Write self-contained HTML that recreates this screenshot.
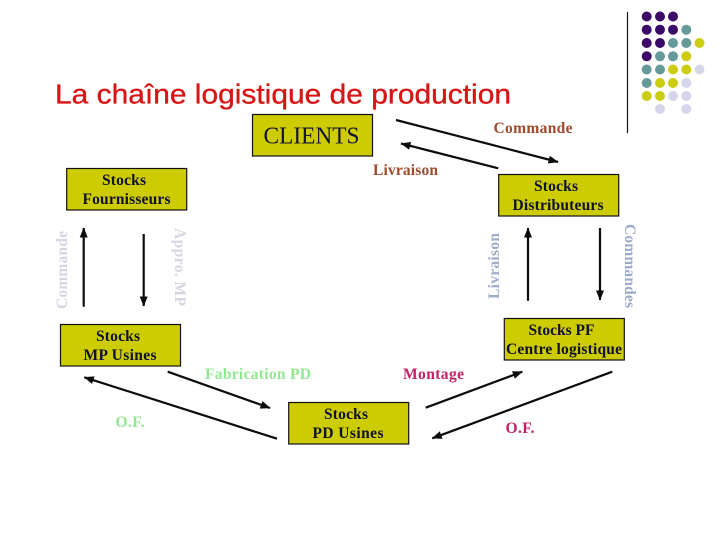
<!DOCTYPE html>
<html lang="fr">
<head>
<meta charset="utf-8">
<title>La chaîne logistique de production</title>
<style>
html,body{margin:0;padding:0;background:#fff;width:720px;height:540px;overflow:hidden}
svg{display:block}
.b{font-family:"Liberation Serif",serif;font-weight:bold;font-size:15.5px;text-anchor:middle;fill:#101030}
.l{font-family:"Liberation Serif",serif;font-weight:bold;font-size:15.5px;text-anchor:middle}
rect.n{fill:#cccc00;stroke:#111;stroke-width:1.2}
line.a{stroke:#0c0c0c;stroke-width:2.2}
</style>
</head>
<body>
<svg width="720" height="540" viewBox="0 0 720 540" xmlns="http://www.w3.org/2000/svg">
<defs>
<marker id="h" markerUnits="userSpaceOnUse" markerWidth="11" markerHeight="9" refX="9.5" refY="4" orient="auto">
<path d="M0 0L10 4L0 8Z" fill="#0c0c0c"/>
</marker>
</defs>
<rect width="720" height="540" fill="#fff"/>

<line x1="627.5" y1="12" x2="627.5" y2="133" stroke="#111" stroke-width="1.2"/>
<g fill="#3b0a68">
<circle cx="646.7" cy="16.5" r="5"/><circle cx="660" cy="16.5" r="5"/><circle cx="673" cy="16.5" r="5"/>
<circle cx="646.7" cy="29.7" r="5"/><circle cx="660" cy="29.7" r="5"/><circle cx="673" cy="29.7" r="5"/>
<circle cx="646.7" cy="43" r="5"/><circle cx="660" cy="43" r="5"/>
<circle cx="646.7" cy="56.3" r="5"/>
</g>
<g fill="#669999">
<circle cx="686.3" cy="29.7" r="5"/>
<circle cx="673" cy="43" r="5"/><circle cx="686.3" cy="43" r="5"/>
<circle cx="660" cy="56.3" r="5"/><circle cx="673" cy="56.3" r="5"/>
<circle cx="646.7" cy="69.5" r="5"/><circle cx="660" cy="69.5" r="5"/>
<circle cx="646.7" cy="83" r="5"/>
</g>
<g fill="#cccc11">
<circle cx="699.5" cy="43" r="5"/>
<circle cx="686.3" cy="56.3" r="5"/>
<circle cx="673" cy="69.5" r="5"/><circle cx="686.3" cy="69.5" r="5"/>
<circle cx="660" cy="83" r="5"/><circle cx="673" cy="83" r="5"/>
<circle cx="646.7" cy="96" r="5"/><circle cx="660" cy="96" r="5"/>
</g>
<g fill="#d6d6ea">
<circle cx="699.5" cy="69.5" r="5"/>
<circle cx="686.3" cy="83" r="5"/>
<circle cx="673" cy="96" r="5"/><circle cx="686.3" cy="96" r="5"/>
<circle cx="660" cy="109" r="5"/><circle cx="686.3" cy="109" r="5"/>
</g>

<text x="55" y="103.5" font-family="'Liberation Sans',sans-serif" font-size="28" fill="#d81414" stroke="#d81414" stroke-width="0.35" textLength="456" lengthAdjust="spacingAndGlyphs">La chaîne logistique de production</text>

<rect class="n" x="252.5" y="114.5" width="120" height="41.5"/>
<text x="311.5" y="143.5" font-family="'Liberation Serif',serif" font-size="24" text-anchor="middle" fill="#141432" textLength="96" lengthAdjust="spacingAndGlyphs">CLIENTS</text>

<rect class="n" x="498.7" y="174.5" width="120" height="41.5"/>
<text class="b" x="556" y="191" textLength="44">Stocks</text>
<text class="b" x="558" y="210" textLength="91">Distributeurs</text>

<rect class="n" x="66.7" y="168.5" width="120" height="41.5"/>
<text class="b" x="124" y="185" textLength="44">Stocks</text>
<text class="b" x="126.5" y="204" textLength="88">Fournisseurs</text>

<rect class="n" x="60.5" y="324.5" width="120" height="41.5"/>
<text class="b" x="118" y="341" textLength="44">Stocks</text>
<text class="b" x="120" y="360" textLength="73">MP Usines</text>

<rect class="n" x="288.7" y="402.5" width="120" height="41.5"/>
<text class="b" x="346" y="419" textLength="44">Stocks</text>
<text class="b" x="348" y="438" textLength="71">PD Usines</text>

<rect class="n" x="504.3" y="318.5" width="120" height="41.5"/>
<text class="b" x="561.5" y="335" textLength="66">Stocks PF</text>
<text class="b" x="564" y="354" textLength="116">Centre logistique</text>

<line class="a" x1="396" y1="120" x2="558" y2="162" marker-end="url(#h)"/>
<line class="a" x1="498.3" y1="168.3" x2="401" y2="143.5" marker-end="url(#h)"/>
<line class="a" x1="83.7" y1="306.7" x2="83.7" y2="228" marker-end="url(#h)"/>
<line class="a" x1="143.7" y1="234" x2="143.7" y2="306" marker-end="url(#h)"/>
<line class="a" x1="528" y1="300.7" x2="528" y2="228" marker-end="url(#h)"/>
<line class="a" x1="600" y1="228" x2="600" y2="300" marker-end="url(#h)"/>
<line class="a" x1="167.7" y1="371.7" x2="270" y2="408" marker-end="url(#h)"/>
<line class="a" x1="277" y1="438.7" x2="84.3" y2="377.3" marker-end="url(#h)"/>
<line class="a" x1="425.7" y1="407.7" x2="522.3" y2="371.7" marker-end="url(#h)"/>
<line class="a" x1="612.3" y1="371.7" x2="432.3" y2="438.3" marker-end="url(#h)"/>

<text class="l" x="533" y="133" fill="#a04a2c" textLength="79">Commande</text>
<text class="l" x="405.5" y="175" fill="#a04a2c" textLength="65">Livraison</text>
<text class="l" x="258" y="379" fill="#90e890" textLength="106">Fabrication PD</text>
<text class="l" x="130" y="427" fill="#90e890" textLength="29">O.F.</text>
<text class="l" x="433.5" y="379" fill="#c02068" textLength="61">Montage</text>
<text class="l" x="520" y="433" fill="#c02068" textLength="29">O.F.</text>

<text class="l" transform="translate(67,270) rotate(-90)" fill="#d4d4e2" textLength="78">Commande</text>
<text class="l" transform="translate(175,267) rotate(90)" fill="#d4d4e2" textLength="78">Appro. MP</text>
<text class="l" transform="translate(499,266) rotate(-90)" fill="#9cabc9" textLength="66">Livraison</text>
<text class="l" transform="translate(625,266) rotate(90)" fill="#9cabc9" textLength="84">Commandes</text>
</svg>
</body>
</html>
